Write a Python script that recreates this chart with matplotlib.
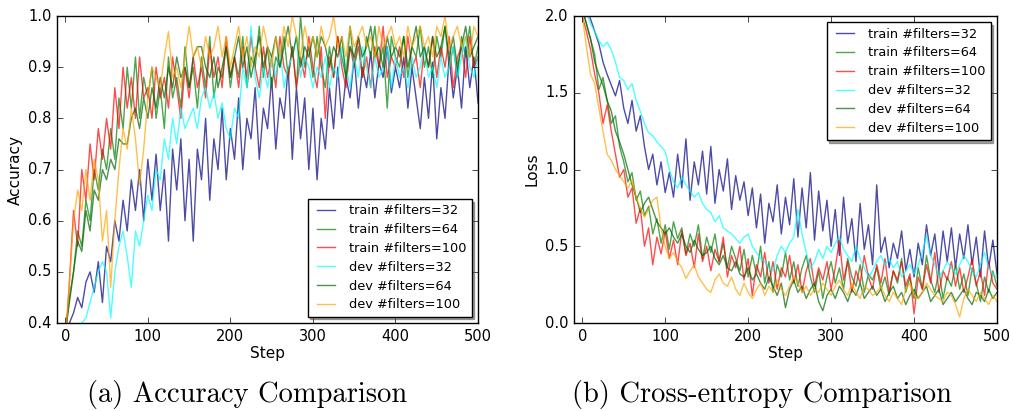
import numpy as np
from matplotlib import pyplot as plt

"""Data (read off the figure, every 5 steps)"""
steps = np.arange(0, 501, 5)
labels = ["train #filters=32", "train #filters=64", "train #filters=100",
          "dev #filters=32", "dev #filters=64", "dev #filters=100"]
colors = ["navy", "green", "red", "cyan", "darkgreen", "orange"]

acc_train_32 = [0.33,
    0.40, 0.42, 0.45, 0.43, 0.48, 0.50, 0.46, 0.52, 0.44, 0.55,
    0.52, 0.60, 0.56, 0.64, 0.58, 0.68, 0.62, 0.70, 0.60, 0.72,
    0.64, 0.73, 0.62, 0.70, 0.56, 0.74, 0.66, 0.76, 0.60, 0.72,
    0.56, 0.74, 0.68, 0.80, 0.64, 0.76, 0.70, 0.82, 0.68, 0.78,
    0.72, 0.84, 0.70, 0.80, 0.76, 0.86, 0.72, 0.82, 0.78, 0.88,
    0.74, 0.84, 0.80, 0.90, 0.72, 0.86, 0.76, 0.84, 0.70, 0.82,
    0.68, 0.80, 0.74, 0.86, 0.78, 0.90, 0.80, 0.88, 0.84, 0.92,
    0.82, 0.90, 0.86, 0.93, 0.84, 0.91, 0.88, 0.94, 0.85, 0.90,
    0.86, 0.92, 0.82, 0.90, 0.84, 0.78, 0.88, 0.80, 0.91, 0.76,
    0.86, 0.80, 0.92, 0.84, 0.90, 0.82, 0.94, 0.86, 0.92, 0.83]
acc_train_64 = [0.38,
    0.45, 0.50, 0.58, 0.55, 0.64, 0.60, 0.70, 0.66, 0.74, 0.70,
    0.78, 0.72, 0.84, 0.78, 0.90, 0.82, 0.92, 0.80, 0.88, 0.84,
    0.90, 0.80, 0.86, 0.78, 0.92, 0.84, 0.88, 0.82, 0.94, 0.86,
    0.90, 0.82, 0.92, 0.86, 0.96, 0.84, 0.90, 0.88, 0.94, 0.86,
    0.92, 0.88, 0.96, 0.86, 0.92, 0.90, 0.98, 0.88, 0.94, 0.86,
    0.92, 0.90, 0.96, 0.88, 0.94, 0.86, 1.00, 0.90, 0.94, 0.88,
    0.96, 0.90, 0.86, 0.94, 0.88, 0.96, 0.92, 0.88, 0.98, 0.90,
    0.94, 0.88, 0.96, 0.92, 0.98, 0.90, 0.94, 0.82, 0.96, 0.92,
    0.90, 0.96, 0.88, 0.94, 0.92, 0.98, 0.90, 0.94, 0.88, 0.96,
    0.92, 0.98, 0.90, 0.94, 0.88, 0.96, 0.92, 0.98, 0.90, 0.94]
acc_train_100 = [0.36,
    0.48, 0.62, 0.55, 0.70, 0.64, 0.75, 0.68, 0.78, 0.72, 0.80,
    0.74, 0.86, 0.78, 0.90, 0.82, 0.88, 0.80, 0.92, 0.84, 0.86,
    0.80, 0.90, 0.84, 0.88, 0.82, 0.92, 0.86, 0.80, 0.90, 0.84,
    0.92, 0.86, 0.90, 0.84, 0.94, 0.88, 0.92, 0.86, 0.96, 0.88,
    0.92, 0.86, 0.94, 0.88, 0.96, 0.90, 0.86, 0.94, 0.88, 0.92,
    0.86, 0.96, 0.90, 0.88, 0.94, 0.86, 0.92, 0.88, 0.96, 0.90,
    0.86, 0.94, 0.80, 0.92, 0.88, 0.96, 0.90, 0.86, 0.94, 0.90,
    0.96, 0.88, 0.92, 0.86, 0.94, 0.90, 0.98, 0.88, 0.92, 0.90,
    0.94, 0.88, 0.96, 0.90, 0.92, 0.86, 0.94, 0.90, 0.96, 0.88,
    0.94, 0.90, 0.96, 0.86, 0.92, 0.94, 0.88, 0.96, 0.90, 0.92]
acc_dev_32 = [0.30,
    0.33, 0.36, 0.38, 0.40, 0.41, 0.44, 0.47, 0.50, 0.52, 0.50,
    0.41, 0.50, 0.55, 0.58, 0.53, 0.47, 0.58, 0.55, 0.60, 0.65,
    0.62, 0.70, 0.68, 0.76, 0.72, 0.80, 0.75, 0.82, 0.78, 0.80,
    0.82, 0.78, 0.84, 0.86, 0.82, 0.85, 0.80, 0.83, 0.78, 0.76,
    0.82, 0.80, 0.90, 0.86, 0.98, 0.88, 0.84, 0.90, 0.86, 0.92,
    0.88, 0.94, 0.86, 0.90, 0.92, 0.96, 0.88, 0.92, 0.90, 0.86,
    0.90, 0.88, 0.92, 0.86, 0.90, 0.88, 0.94, 0.90, 0.86, 0.92,
    0.88, 0.94, 0.90, 0.86, 0.92, 0.88, 0.90, 0.94, 0.86, 0.92,
    0.88, 0.90, 0.86, 0.92, 0.88, 0.90, 0.94, 0.88, 0.90, 0.86,
    0.92, 0.88, 0.90, 0.94, 0.88, 0.92, 0.96, 0.90, 0.88, 0.92]
acc_dev_64 = [0.38,
    0.44, 0.50, 0.56, 0.54, 0.62, 0.58, 0.66, 0.64, 0.70, 0.68,
    0.72, 0.70, 0.76, 0.75, 0.75, 0.80, 0.82, 0.78, 0.84, 0.80,
    0.86, 0.82, 0.88, 0.84, 0.90, 0.86, 0.92, 0.88, 0.90, 0.86,
    0.92, 0.94, 0.94, 0.90, 0.88, 0.92, 0.86, 0.90, 0.94, 0.88,
    0.92, 0.96, 0.90, 0.94, 0.88, 0.92, 0.96, 0.90, 0.94, 0.92,
    0.96, 0.90, 0.94, 0.98, 0.92, 0.96, 0.90, 0.94, 0.92, 0.96,
    0.92, 0.96, 0.94, 0.90, 0.94, 0.92, 0.96, 0.88, 0.94, 0.92,
    0.96, 0.92, 0.94, 0.98, 0.92, 0.94, 0.90, 0.96, 0.92, 0.94,
    0.92, 0.96, 0.90, 0.94, 0.98, 0.92, 0.94, 0.90, 0.96, 0.92,
    0.94, 0.98, 0.92, 0.96, 0.90, 0.94, 0.98, 0.92, 0.94, 0.96]
acc_dev_100 = [0.36,
    0.48, 0.60, 0.66, 0.62, 0.70, 0.64, 0.72, 0.68, 0.56, 0.62,
    0.47, 0.60, 0.70, 0.78, 0.74, 0.82, 0.76, 0.67, 0.74, 0.84,
    0.90, 0.88, 0.86, 0.92, 0.97, 0.88, 0.90, 0.86, 0.92, 0.98,
    0.92, 0.94, 0.90, 0.96, 0.92, 0.94, 0.98, 0.92, 0.96, 0.90,
    0.94, 0.98, 0.92, 0.96, 0.90, 0.94, 0.92, 0.98, 0.94, 0.90,
    0.96, 0.92, 0.98, 0.94, 1.00, 0.96, 0.92, 0.98, 0.94, 0.96,
    0.92, 0.98, 0.94, 0.96, 1.00, 0.94, 0.96, 0.92, 0.98, 0.94,
    0.96, 0.98, 0.94, 0.96, 0.92, 0.98, 0.94, 0.96, 0.98, 0.94,
    0.96, 0.92, 0.98, 0.94, 0.96, 0.98, 0.94, 0.96, 0.92, 0.98,
    0.96, 1.00, 0.94, 0.96, 0.98, 0.94, 0.96, 0.92, 0.98, 0.96]

loss_train_32 = [2.10,
    2.05, 1.98, 1.90, 1.82, 1.70, 1.62, 1.55, 1.48, 1.58, 1.40,
    1.30, 1.45, 1.25, 1.35, 1.15, 1.00, 1.10, 0.90, 1.05, 0.85,
    0.98, 0.82, 1.10, 0.88, 1.20, 0.80, 1.05, 0.90, 1.12, 0.84,
    1.15, 0.78, 1.00, 0.86, 1.07, 0.74, 0.96, 0.80, 0.92, 0.70,
    0.88, 0.62, 0.84, 0.52, 0.78, 0.66, 0.90, 0.58, 0.82, 0.64,
    0.94, 0.56, 0.88, 0.62, 0.98, 0.54, 0.86, 0.60, 0.80, 0.50,
    0.74, 0.44, 0.82, 0.52, 0.68, 0.40, 0.78, 0.48, 0.64, 0.38,
    0.90, 0.46, 0.56, 0.36, 0.52, 0.42, 0.60, 0.34, 0.48, 0.30,
    0.52, 0.38, 0.64, 0.44, 0.58, 0.34, 0.60, 0.40, 0.62, 0.36,
    0.58, 0.42, 0.64, 0.38, 0.56, 0.30, 0.60, 0.36, 0.54, 0.32]
loss_train_64 = [2.05,
    1.95, 1.85, 1.75, 1.52, 1.60, 1.45, 1.30, 1.35, 1.15, 1.05,
    0.92, 0.98, 0.80, 0.86, 0.70, 0.76, 0.58, 0.68, 0.52, 0.64,
    0.48, 0.66, 0.55, 0.62, 0.45, 0.58, 0.50, 0.64, 0.42, 0.56,
    0.46, 0.58, 0.40, 0.52, 0.36, 0.50, 0.42, 0.34, 0.48, 0.30,
    0.44, 0.32, 0.50, 0.26, 0.40, 0.20, 0.38, 0.30, 0.46, 0.28,
    0.40, 0.24, 0.36, 0.44, 0.30, 0.20, 0.34, 0.16, 0.30, 0.40,
    0.26, 0.36, 0.22, 0.42, 0.30, 0.24, 0.38, 0.20, 0.32, 0.28,
    0.36, 0.22, 0.30, 0.18, 0.34, 0.26, 0.42, 0.20, 0.30, 0.16,
    0.36, 0.22, 0.44, 0.28, 0.20, 0.34, 0.16, 0.30, 0.24, 0.38,
    0.22, 0.32, 0.18, 0.36, 0.26, 0.14, 0.30, 0.20, 0.34, 0.24]
loss_train_100 = [2.00,
    1.90, 1.78, 1.62, 1.50, 1.30, 1.42, 1.25, 1.10, 0.95, 1.00,
    0.82, 0.88, 0.65, 0.75, 0.50, 0.62, 0.38, 0.56, 0.45, 0.60,
    0.42, 0.54, 0.38, 0.60, 0.44, 0.52, 0.36, 0.58, 0.40, 0.50,
    0.34, 0.48, 0.40, 0.56, 0.30, 0.44, 0.36, 0.50, 0.28, 0.42,
    0.18, 0.38, 0.30, 0.46, 0.26, 0.40, 0.22, 0.36, 0.30, 0.44,
    0.26, 0.38, 0.20, 0.34, 0.42, 0.24, 0.36, 0.28, 0.40, 0.22,
    0.36, 0.54, 0.28, 0.40, 0.20, 0.34, 0.26, 0.44, 0.30, 0.22,
    0.38, 0.26, 0.42, 0.20, 0.34, 0.28, 0.40, 0.24, 0.32, 0.06,
    0.30, 0.22, 0.38, 0.26, 0.46, 0.20, 0.34, 0.28, 0.40, 0.24,
    0.36, 0.20, 0.30, 0.42, 0.24, 0.34, 0.18, 0.40, 0.26, 0.22]
loss_dev_32 = [2.10,
    2.02, 1.95, 1.90, 1.84, 1.80, 1.83, 1.78, 1.70, 1.60, 1.58,
    1.52, 1.56, 1.45, 1.38, 1.30, 1.24, 1.22, 1.18, 1.15, 1.12,
    1.00, 0.92, 0.88, 0.95, 0.90, 0.86, 0.82, 0.85, 0.78, 0.74,
    0.72, 0.66, 0.70, 0.62, 0.60, 0.58, 0.55, 0.52, 0.56, 0.58,
    0.50, 0.46, 0.42, 0.40, 0.36, 0.34, 0.44, 0.50, 0.46, 0.52,
    0.56, 0.74, 0.58, 0.46, 0.36, 0.40, 0.48, 0.42, 0.50, 0.46,
    0.52, 0.56, 0.48, 0.44, 0.40, 0.50, 0.42, 0.36, 0.30, 0.34,
    0.40, 0.44, 0.38, 0.42, 0.36, 0.40, 0.30, 0.34, 0.38, 0.32,
    0.38, 0.46, 0.57, 0.44, 0.38, 0.30, 0.34, 0.40, 0.36, 0.32,
    0.38, 0.44, 0.40, 0.34, 0.30, 0.38, 0.46, 0.36, 0.32, 0.30]
loss_dev_64 = [2.05,
    1.95, 1.85, 1.70, 1.62, 1.55, 1.45, 1.38, 1.25, 1.18, 1.10,
    1.00, 0.90, 0.82, 0.72, 0.78, 0.82, 0.74, 0.66, 0.62, 0.58,
    0.62, 0.56, 0.52, 0.58, 0.50, 0.46, 0.54, 0.48, 0.44, 0.46,
    0.50, 0.42, 0.38, 0.44, 0.36, 0.34, 0.40, 0.32, 0.30, 0.36,
    0.28, 0.32, 0.26, 0.22, 0.30, 0.24, 0.18, 0.26, 0.10, 0.22,
    0.28, 0.20, 0.24, 0.16, 0.22, 0.26, 0.14, 0.08, 0.18, 0.22,
    0.16, 0.24, 0.20, 0.14, 0.22, 0.18, 0.26, 0.16, 0.20, 0.24,
    0.18, 0.22, 0.14, 0.20, 0.24, 0.16, 0.20, 0.12, 0.18, 0.22,
    0.16, 0.20, 0.24, 0.14, 0.18, 0.22, 0.12, 0.16, 0.20, 0.14,
    0.18, 0.22, 0.16, 0.12, 0.20, 0.18, 0.14, 0.22, 0.16, 0.20]
loss_dev_100 = [2.00,
    1.80, 1.62, 1.56, 1.40, 1.25, 1.10, 1.06, 1.00, 0.96, 0.92,
    0.88, 0.93, 0.82, 0.75, 0.69, 0.74, 0.80, 0.82, 0.62, 0.50,
    0.42, 0.46, 0.40, 0.36, 0.29, 0.34, 0.38, 0.30, 0.26, 0.22,
    0.20, 0.28, 0.32, 0.26, 0.24, 0.30, 0.22, 0.18, 0.26, 0.20,
    0.16, 0.22, 0.26, 0.18, 0.24, 0.20, 0.28, 0.22, 0.18, 0.24,
    0.30, 0.26, 0.20, 0.24, 0.18, 0.22, 0.20, 0.26, 0.22, 0.18,
    0.24, 0.28, 0.22, 0.18, 0.26, 0.20, 0.16, 0.24, 0.22, 0.18,
    0.20, 0.24, 0.18, 0.14, 0.20, 0.16, 0.12, 0.22, 0.26, 0.18,
    0.16, 0.20, 0.26, 0.22, 0.18, 0.16, 0.14, 0.20, 0.18, 0.12,
    0.04, 0.16, 0.22, 0.18, 0.14, 0.20, 0.16, 0.12, 0.18, 0.14]

acc_series = [acc_train_32, acc_train_64, acc_train_100, acc_dev_32, acc_dev_64, acc_dev_100]
loss_series = [loss_train_32, loss_train_64, loss_train_100, loss_dev_32, loss_dev_64, loss_dev_100]

"""Draw"""
plt.style.use('classic')
plt.rcParams['font.family'] = 'DejaVu Sans'
fig = plt.figure(figsize=(10.13, 4.11), dpi=100, facecolor='white')
ax0 = fig.add_axes([0.0563, 0.214, 0.4156, 0.747])
ax1 = fig.add_axes([0.5666, 0.214, 0.4176, 0.747])


def draw(ax, series, ylim, yticks, ylabel, loc):
    for ys, c, lab in zip(series, colors, labels):
        ax.plot(steps, ys, color=c, alpha=0.7, lw=1.0, label=lab)
    ax.set_xlim(-10, 500)
    ax.set_ylim(*ylim)
    ax.set_xticks([0, 100, 200, 300, 400, 500])
    ax.set_yticks(yticks)
    ax.tick_params(labelsize=10.5, direction='in', top=True, right=True)
    ax.set_xlabel("Step", fontsize=11, labelpad=2)
    ax.set_ylabel(ylabel, fontsize=11, labelpad=4)
    leg = ax.legend(loc=loc, fontsize=9.3, shadow=True, fancybox=False,
                    handlelength=2.0, borderaxespad=0.5, labelspacing=0.45)
    leg.get_frame().set_linewidth(1.0)


draw(ax0, acc_series, (0.4, 1.0), [0.4, 0.5, 0.6, 0.7, 0.8, 0.9, 1.0], "Accuracy", "lower right")
draw(ax1, loss_series, (0.0, 2.0), [0.0, 0.5, 1.0, 1.5, 2.0], "Loss", "upper right")
ax0.yaxis.set_major_formatter(plt.FormatStrFormatter('%.1f'))
ax1.yaxis.set_major_formatter(plt.FormatStrFormatter('%.1f'))

fig.text(0.244, 0.022, "(a) Accuracy Comparison", family='cmr10', fontsize=20.5, ha='center', va='baseline')
fig.text(0.752, 0.022, "(b) Cross-entropy Comparison", family='cmr10', fontsize=20.5, ha='center', va='baseline')

fig.savefig('out.png', dpi=100, facecolor='white')
